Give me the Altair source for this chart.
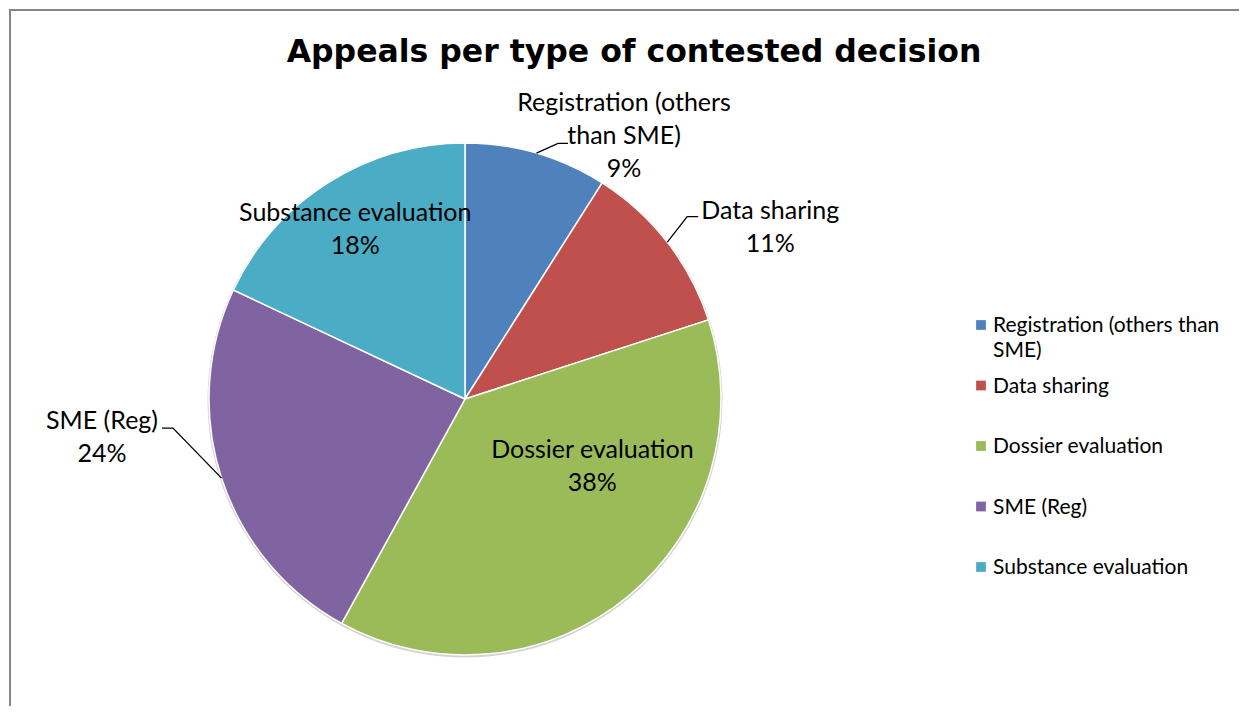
import math
import altair as alt
import pandas as pd

# ---- data ----
categories = ["Registration (others than SME)", "Data sharing", "Dossier evaluation",
              "SME (Reg)", "Substance evaluation"]
values = [9, 11, 38, 24, 18]
colors = ["#4F81BD", "#C0504D", "#9BBB59", "#8064A2", "#4BACC6"]
pie_labels = ["Registration (others\nthan SME)", "Data sharing", "Dossier evaluation",
              "SME (Reg)", "Substance evaluation"]
legend_labels = ["Registration (others than\nSME)", "Data sharing", "Dossier evaluation",
                 "SME (Reg)", "Substance evaluation"]
title_text = "Appeals per type of contested decision"

# ---- layout (styling only) ----
W, H = 1231, 698
CX, CY, R = 457, 391, 256
LABEL_FONT = "Lato"
LABEL_SIZE = 25
LINE_H = 33
# per label: (angle shift from slice middle in degrees, radial distance)
label_layout = {
    "Registration (others than SME)": (15.0, 307),
    "Data sharing": (8.5, 350),
    "Dossier evaluation": (-22.6, 144),
    "SME (Reg)": (12.0, 365),
    "Substance evaluation": (-0.5, 202),
}
# leader lines: end offset from label centre (dx, dy), elbow length
leader_layout = {
    "Registration (others than SME)": (-56, 7, -10),
    "Data sharing": (-72, -11, -11),
    "SME (Reg)": (60, -9, 11),
}

total = sum(values)
rows, label_rows, leader_rows = [], [], []
cum = 0
for i, (c, v) in enumerate(zip(categories, values)):
    pct = round(100 * v / total)
    mid = (cum + v / 2) / total * 360
    cum += v
    rows.append({"cat": c, "value": v, "order": i})
    shift, rad = label_layout[c]
    a = math.radians(mid + shift)
    lx, ly = CX + rad * math.sin(a), CY - rad * math.cos(a)
    text = f"{pie_labels[i]}\n{pct}%"
    n = text.count("\n") + 1
    label_rows.append({"cat": c, "text": text, "px": lx, "py": ly - (n - 1) * LINE_H / 2})
    if c in leader_layout:
        ex, ey, el = leader_layout[c]
        am = math.radians(mid)
        sx, sy = CX + R * math.sin(am), CY - R * math.cos(am)
        pts = [(sx, sy), (lx + ex + el, ly + ey), (lx + ex, ly + ey)]
        for k, (x, y) in enumerate(pts):
            leader_rows.append({"cat": c, "k": k, "px": x, "py": y})

df = pd.DataFrame(rows)
df_lab = pd.DataFrame(label_rows)
df_lead = pd.DataFrame(leader_rows)
df_leg = pd.DataFrame({"cat": categories, "lab": legend_labels})

color = alt.Color("cat:N", scale=alt.Scale(domain=categories, range=colors), legend=None)

frame = alt.Chart(pd.DataFrame({"t": [title_text]})).mark_rect(
    fill="white", stroke="#868686", strokeWidth=2
).encode(x=alt.value(2), y=alt.value(2), x2=alt.value(1400), y2=alt.value(900))

title = alt.Chart(pd.DataFrame({"t": [title_text]})).mark_text(
    font="DejaVu Sans", fontWeight="bold", fontSize=31.5, color="black",
    align="center", baseline="alphabetic"
).encode(text="t:N", x=alt.value(626), y=alt.value(54))

shadow = alt.Chart(df).mark_arc(outerRadius=R + 1.5, color="#d4d4d4").encode(
    theta=alt.Theta("sum(value):Q"),
    x=alt.value(CX), y=alt.value(CY + 1),
)

pie = alt.Chart(df).mark_arc(outerRadius=R, stroke="white", strokeWidth=1.5).encode(
    theta=alt.Theta("value:Q", stack=True),
    order=alt.Order("order:Q"),
    color=color,
    x=alt.value(CX), y=alt.value(CY),
)

leaders = alt.Chart(df_lead).mark_line(color="black", strokeWidth=1.3).encode(
    x=alt.X("px:Q", scale=None, axis=None),
    y=alt.Y("py:Q", scale=None, axis=None),
    detail="cat:N",
    order="k:Q",
)

labels = alt.Chart(df_lab).mark_text(
    font=LABEL_FONT, fontSize=LABEL_SIZE, color="black", align="center",
    baseline="middle", lineBreak="\n", lineHeight=LINE_H
).encode(
    x=alt.X("px:Q", scale=None, axis=None),
    y=alt.Y("py:Q", scale=None, axis=None),
    text="text:N",
)

leg_y = alt.Y("cat:N", sort=categories, axis=None,
              scale=alt.Scale(type="point", range=[317, 559], padding=0))
leg_sym = alt.Chart(df_leg).mark_square(size=95, opacity=1).encode(
    x=alt.value(973), y=leg_y, color=color
)
leg_txt = alt.Chart(df_leg).mark_text(
    font=LABEL_FONT, fontSize=21, color="black", align="left",
    baseline="alphabetic", lineBreak="\n", lineHeight=25, dy=7
).encode(x=alt.value(985), y=leg_y, text="lab:N")

chart = alt.layer(frame, title, shadow, pie, leaders, labels, leg_sym, leg_txt).resolve_scale(
    y="independent"
).properties(
    width=W, height=H, autosize=alt.AutoSizeParams(type="none"), padding=0
).configure_view(strokeWidth=0)

chart.save("out.html", embed_options={"renderer": "svg", "actions": False})
